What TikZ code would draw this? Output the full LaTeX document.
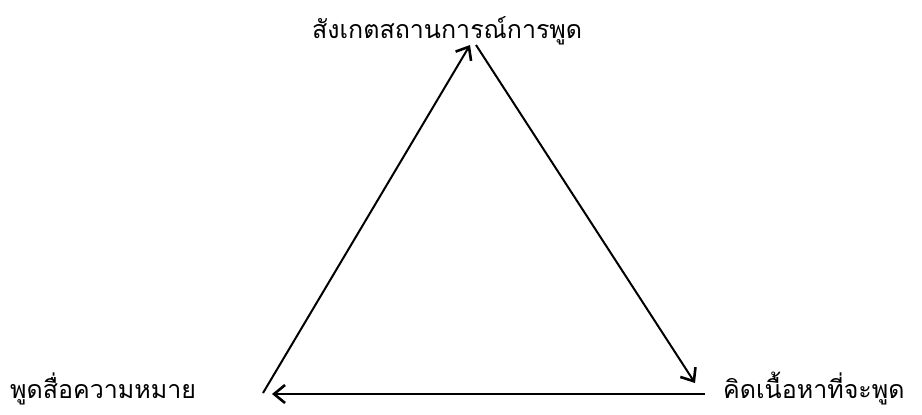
\documentclass[tikz,border=0pt]{standalone}
\usepackage{fontspec}
\newfontfamily\thaifont[Script=Thai]{Loma}
\usetikzlibrary{arrows.meta}
\tikzset{
  lbl/.style={font=\thaifont\fontsize{25}{29}\selectfont, inner sep=0pt, anchor=base west},
  conn/.style={line width=2pt, -{Straight Barb[length=11pt,width=18pt,line width=2.6pt]}}
}
\begin{document}
\begin{tikzpicture}[x=1pt,y=-1pt]
\useasboundingbox (0,0) rectangle (922,415);
\node[lbl] (top) at (312,38) {สังเกตสถานการณ์การพูด};
\node[lbl] (right) at (723,398) {คิดเนื้อหาที่จะพูด};
\node[lbl] (left) at (10,398) {พูดสื่อความหมาย};
\coordinate (l0) at (263,393);
\coordinate (l1) at (470,45);
\coordinate (r0) at (476,45);
\coordinate (r1) at (695,383);
\coordinate (b0) at (705,394);
\coordinate (b1) at (272,394);
\draw[conn] (l0) -- (l1);
\draw[conn] (r0) -- (r1);
\draw[conn] (b0) -- (b1);
\end{tikzpicture}
\end{document}
